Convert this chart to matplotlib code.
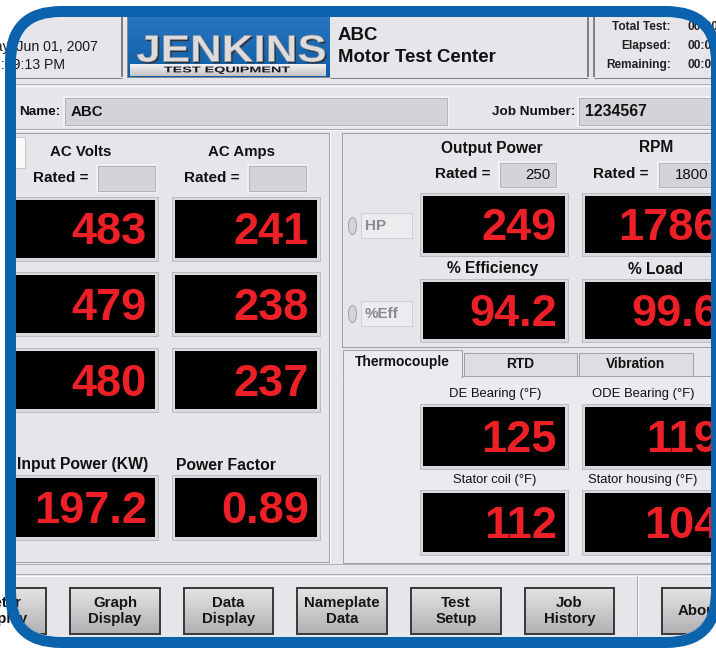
import matplotlib
matplotlib.use('Agg')
import matplotlib.pyplot as plt
import numpy as np
from matplotlib.patches import Rectangle, FancyBboxPatch, Ellipse, PathPatch
from matplotlib.textpath import TextPath
from matplotlib.font_manager import FontProperties
from matplotlib.transforms import Affine2D
from matplotlib.colors import LinearSegmentedColormap

plt.rcParams['font.family'] = ['Liberation Sans', 'DejaVu Sans']

# ---------------- data ----------------
header_date = "Friday, Jun 01, 2007"
header_time = "12:59:13 PM"
brand = "JENKINS"
brand_sub = "TEST EQUIPMENT"
title_lines = ["ABC", "Motor Test Center"]
timer_labels = ["Total Test:", "Elapsed:", "Remaining:"]
timer_values = ["00:00:00", "00:00:00", "00:00:00"]
customer_name = "ABC"
job_number = "1234567"
ac_volts = [483, 479, 480]
ac_amps = [241, 238, 237]
input_power_kw = 197.2
power_factor = 0.89
output_power_hp = 249
rpm_value = 1786
efficiency_pct = 94.2
load_pct = 99.6
rated_output = 250
rated_rpm = 1800
unit_selectors = ["HP", "%Eff"]
tabs = ["Thermocouple", "RTD", "Vibration"]
temp_labels = ["DE Bearing (°F)", "ODE Bearing (°F)", "Stator coil (°F)", "Stator housing (°F)"]
temp_values = [125, 119, 112, 104]
buttons = ["Meter\nDisplay", "Graph\nDisplay", "Data\nDisplay", "Nameplate\nData",
           "Test\nSetup", "Job\nHistory", "About"]

# ---------------- canvas ----------------
W, H = 716, 649
fig = plt.figure(figsize=(W / 100, H / 100), dpi=100)
fig.patch.set_facecolor('white')
ax = fig.add_axes([0, 0, 1, 1])
ax.axis('off')

BG = '#e6e6ea'
PANEL_EDGE = '#a2a2a6'
RED = '#ee2027'
BLUE = '#0b63ae'
PX = 0.72  # points per pixel
content = []


def rect(x0, y0, x1, y1, fc, ec='none', lw=0, z=1):
    p = Rectangle((x0, y0), x1 - x0, y1 - y0, facecolor=fc, edgecolor=ec,
                  linewidth=lw * PX, zorder=z)
    ax.add_patch(p)
    content.append(p)
    return p


def line(xs, ys, c, lw=1, z=2):
    l, = ax.plot(xs, ys, color=c, lw=lw * PX, zorder=z, solid_capstyle='butt')
    content.append(l)


def txt(x, y, s, size, weight='bold', ha='left', va='center', color='#111111', z=6, **kw):
    t = ax.text(x, y, s, fontsize=size, fontweight=weight, ha=ha, va=va,
                color=color, zorder=z, **kw)
    content.append(t)
    return t


def gradient(x0, y0, x1, y1, c_top, c_bot, z=2):
    cmap = LinearSegmentedColormap.from_list('g', [c_top, c_bot])
    im = ax.imshow(np.linspace(0, 1, 64).reshape(-1, 1), cmap=cmap, aspect='auto',
                   extent=(x0, x1, y1, y0), origin='upper', zorder=z,
                   interpolation='bilinear')
    content.append(im)


def path_text(s, x0, y0, x1, y1, fc, ec='none', lw=0, z=5):
    fp = FontProperties(family='Liberation Sans', weight='bold')
    tp = TextPath((0, 0), s, size=100, prop=fp)
    bb = tp.get_extents()
    sx = (x1 - x0) / bb.width
    sy = (y1 - y0) / bb.height
    tr = Affine2D().translate(-bb.x0, -bb.y1).scale(sx, -sy).translate(x0, y0)
    pp = PathPatch(tr.transform_path(tp), facecolor=fc, edgecolor=ec,
                   linewidth=lw * PX, zorder=z)
    ax.add_patch(pp)
    content.append(pp)


def display(x0, y0, x1, y1, value):
    rect(x0 - 3, y0 - 3, x1 + 3, y1 + 3, '#d9d9dd', '#bdbdc1', 1, z=3)
    rect(x0, y0, x1, y1, '#000000', z=4)
    txt(x1 - 8, (y0 + y1) / 2 + 15.5, value, 32.5, ha='right', va='baseline', color=RED, z=5)


def field(x0, y0, x1, y1, fc='#d4d4d8'):
    rect(x0 - 2, y0 - 2, x1 + 2, y1 + 2, '#f0f0f2', z=3)
    rect(x0, y0, x1, y1, fc, '#b4b4b8', 1, z=3)


# background
rect(0, 0, W, H, BG, z=0)

# ---------------- header ----------------
line([122, 122], [10, 77], '#606060', 1.5)
line([0, 122], [77.5, 77.5], '#808080', 1)
txt(98, 47, header_date, 10.2, weight='normal', ha='right', color='#1a1a1a')
txt(65, 65, header_time, 10.2, weight='normal', ha='right', color='#1a1a1a')

# logo
rect(127, 10, 330, 78, '#8a8a8a', z=2)
gradient(128, 10, 330, 77, '#2a78c0', '#0d5ea8', z=2)
path_text(brand, 138.5, 36.5, 326.5, 63.5, '#2e2e30', z=4)
path_text(brand, 137, 35, 325, 62, '#dcdcde', ec='#8a8a8c', lw=0.6, z=5)
gradient(130, 64, 326, 76, '#f2f2f2', '#c4c4c4', z=4)
path_text(brand_sub, 164, 66.5, 290, 74, '#151520', z=6)

# title
txt(338, 35, title_lines[0], 13.4)
txt(338, 58, title_lines[1], 13.4)
line([330, 588], [77.5, 77.5], '#808080', 1)
line([588, 588], [10, 77], '#606060', 1.5)
line([594, 594], [10, 77], '#606060', 1.5)
line([594, 720], [77.5, 77.5], '#808080', 1)
for i, (lab, val) in enumerate(zip(timer_labels, timer_values)):
    yy = 27 + 19 * i
    txt(671, yy, lab, 8.6, ha='right', color='#222222')
    txt(688, yy, val, 8.6, ha='left', color='#222222')

line([0, 720], [84, 84], '#b4b4b8', 1)
line([0, 720], [85.5, 85.5], '#fbfbfb', 1)

# ---------------- name row ----------------
txt(19, 112, "Name:", 9.7)
field(65, 98, 447, 125)
txt(71, 112, customer_name, 10.8)
txt(575, 112, "Job Number:", 9.7, ha='right')
field(579, 98, 730, 125)
txt(585, 112, job_number, 11.3)
line([0, 720], [128.5, 128.5], '#a8a8ac', 1)
line([0, 720], [130, 130], '#fbfbfb', 1)

# ---------------- left panel ----------------
rect(5, 133, 329, 562, BG, PANEL_EDGE, 1, z=1)
line([330, 330], [133, 562], '#fbfbfb', 1)
rect(5, 137, 25, 168, '#fafafa', '#c8c8cc', 1, z=3)
txt(81, 152, "AC Volts", 10.8, ha='center')
txt(242, 152, "AC Amps", 10.8, ha='center')
txt(33, 178, "Rated =", 11)
field(98, 166, 155, 191)
txt(184, 178, "Rated =", 11)
field(249, 166, 306, 191)
rows = [(200, 258), (275, 333), (351, 409)]
for (y0, y1), v, a in zip(rows, ac_volts, ac_amps):
    display(-10, y0, 155, y1, str(v))
    display(175, y0, 317, y1, str(a))
txt(17, 465, "Input Power (KW)", 11.3)
txt(176, 466, "Power Factor", 11.3)
display(-10, 478, 155, 537, f"{input_power_kw:.1f}")
display(175, 478, 317, 537, f"{power_factor:.2f}")

# ---------------- right upper panel ----------------
rect(342, 133, 730, 347, BG, PANEL_EDGE, 1, z=1)
txt(492, 148, "Output Power", 11.2, ha='center')
txt(656, 148, "RPM", 11.2, ha='center')
txt(435, 174, "Rated =", 11)
field(500, 163, 556, 187)
txt(550, 175, str(rated_output), 10.8, weight='normal', ha='right')
txt(593, 174, "Rated =", 11)
field(659, 163, 730, 187)
txt(708, 175, str(rated_rpm), 10.8, weight='normal', ha='right')
for yc, lab in zip([226, 314], unit_selectors):
    e = Ellipse((352.5, yc), 8, 17, facecolor='#d6d6da', edgecolor='#a8a8ac',
                linewidth=0.8, zorder=3)
    ax.add_patch(e)
    content.append(e)
    rect(361, yc - 13, 412, yc + 12, '#ececef', '#d0d0d4', 1, z=3)
    txt(365, yc, lab, 11, color='#8a8a8e')
display(423, 196, 565, 253, str(output_power_hp))
display(585, 196, 727, 253, str(rpm_value))
txt(493, 269, "% Efficiency", 11.2, ha='center')
txt(656, 270, "% Load", 11.2, ha='center')
display(423, 282, 565, 339, f"{efficiency_pct:.1f}")
display(585, 282, 727, 339, f"{load_pct:.1f}")

# ---------------- tab panel ----------------
rect(343, 376, 730, 563, '#ebebef', PANEL_EDGE, 1, z=1)
tab_x = [(343, 462), (464, 577), (579, 693)]
for i, ((x0, x1), lab) in enumerate(zip(tab_x, tabs)):
    if i == 0:
        rect(x0, 350, x1, 377, '#ebebef', PANEL_EDGE, 1, z=2)
        rect(x0 + 1, 374, x1 - 1, 379, '#ebebef', z=2)
        txt(355, 362, lab, 9.9)
    else:
        rect(x0, 353, x1, 376, '#dedee2', PANEL_EDGE, 1, z=2)
        txt((x0 + x1) / 2, 364, lab, 9.9, ha='center')
tcx = [(423, 565), (585, 727)]
trow = [(407, 466), (493, 552)]
for i, (lab, val) in enumerate(zip(temp_labels, temp_values)):
    (x0, x1) = tcx[i % 2]
    (y0, y1) = trow[i // 2]
    txt((x0 + x1) / 2 + (1 if i % 2 == 0 else -13), y0 - 13, lab, 9.4,
        weight='normal', ha='center', color='#111111')
    display(x0, y0, x1, y1, str(val))

# ---------------- bottom buttons ----------------
line([0, 720], [563.5, 563.5], '#b0b0b4', 1)
line([0, 720], [574, 574], '#a8a8ac', 1)
line([0, 720], [575.5, 575.5], '#fbfbfb', 1)
line([636.5, 636.5], [576, 649], '#a8a8ac', 1)
line([638, 638], [576, 649], '#fbfbfb', 1)
bx = [(-45, 46), (70, 160), (184, 273), (297, 387), (411, 501), (525, 614), (662, 752)]
for (x0, x1), lab in zip(bx, buttons):
    rect(x0 - 1, 587, x1 + 1, 635, '#3c3c3c', z=2)
    gradient(x0 + 1, 589, x1 - 1, 633, '#e2e2e2', '#b2b2b4', z=3)
    xc = (x0 + x1) / 2 if lab != "About" else 699
    txt(xc, 611, lab, 10.8, ha='center', color='#151515', linespacing=1.15)

# ---------------- clip to rounded frame ----------------
ax.set_xlim(0, W)
ax.set_ylim(H, 0)
clip = FancyBboxPatch((16, 17), 695, 620, boxstyle='round,pad=0,rounding_size=45',
                      transform=ax.transData, facecolor='none', edgecolor='none')
for a in content:
    a.set_clip_on(True)
    a.set_clip_path(clip)

frame = FancyBboxPatch((10.5, 11.5), 706, 631,
                       boxstyle='round,pad=0,rounding_size=50.5',
                       facecolor='none', edgecolor=BLUE, linewidth=11 * PX, zorder=20)
ax.add_patch(frame)

fig.savefig('out.png', dpi=100, facecolor='white')
